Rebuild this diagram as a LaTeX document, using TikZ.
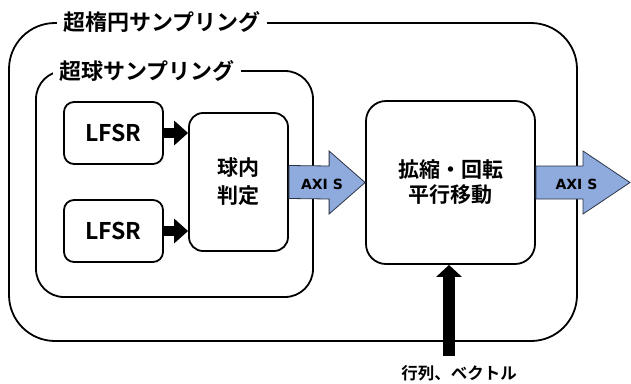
\documentclass[tikz,border=0pt]{standalone}
\usepackage{fontspec}
\setmainfont{Noto Sans CJK JP}[BoldFont={Noto Sans CJK JP Bold}]
\newfontfamily\latinfont{DejaVu Sans}
\usetikzlibrary{arrows.meta,calc}
\definecolor{axiblue}{HTML}{8FAADC}
\definecolor{axiline}{HTML}{2B3547}
\begin{document}
\begin{tikzpicture}[x=1pt,y=-1pt,
  box/.style={draw=black, line width=1.8pt, fill=white, inner sep=0pt, align=center, font=\bfseries\fontsize{21}{27}\selectfont},
  grp/.style={draw=black, line width=1.8pt, inner sep=0pt},
  grplabel/.style={fill=white, inner xsep=6pt, inner ysep=2pt, font=\bfseries\fontsize{22}{25}\selectfont},
  blk/.style={line width=10.7pt, -{Triangle[width=24pt,length=14pt]}},
  blkv/.style={line width=12pt, -{Triangle[width=25pt,length=12pt]}},
  axi/.style={fill=axiblue, draw=axiline, line width=0.8pt, line join=miter},
  axitext/.style={font=\latinfont\bfseries\fontsize{14}{16}\selectfont},
]
\useasboundingbox (0,0) rectangle (631,383);

% groups
\node[grp, rounded corners=46pt, minimum width=568pt, minimum height=318pt] (outer) at (293,182) {};
\node[grplabel] (outerlab) at (162,22) {超楕円サンプリング};
\node[grp, rounded corners=28pt, minimum width=277pt, minimum height=226pt] (inner) at (174.5,184) {};
\node[grplabel] (innerlab) at (147,71) {超球サンプリング};

% blocks
\node[box, rounded corners=10pt, minimum width=99pt, minimum height=62pt, font=\bfseries\fontsize{23}{27}\selectfont] (l1) at (113.5,133) {LFSR};
\node[box, rounded corners=10pt, minimum width=99pt, minimum height=62pt, font=\bfseries\fontsize{23}{27}\selectfont] (l2) at (113.5,231) {LFSR};
\node[box, rounded corners=14pt, minimum width=99pt, minimum height=138pt, font=\bfseries\fontsize{21}{28}\selectfont] (judge) at (238.5,182) {球内\\判定};
\node[box, rounded corners=20pt, minimum width=169pt, minimum height=163pt, font=\bfseries\fontsize{21}{25}\selectfont] (scale) at (450.5,182.5) {拡縮・回転\\平行移動};

% LFSR arrows
\draw[blk] (l1.east) -- (l1.east -| judge.west);
\draw[blk] (l2.east) -- (l2.east -| judge.west);

% AXI S arrows
\path[axi] ($(judge.east)+(0,-16.5)$) -- ($(scale.west)+(-36,-16.5)$) -- ($(scale.west)+(-36,-31.5)$)
  -- (scale.west) -- ($(scale.west)+(-36,31.5)$) -- ($(scale.west)+(-36,16.5)$) -- ($(judge.east)+(0,16.5)$) -- cycle;
\node[axitext] (axi1) at (322,184) {AXI S};

\coordinate (out) at (630,182.5);
\path[axi] ($(scale.east)+(0,-16.5)$) -- ($(out)+(-47,-16.5)$) -- ($(out)+(-47,-31.5)$)
  -- (out) -- ($(out)+(-47,31.5)$) -- ($(out)+(-47,16.5)$) -- ($(scale.east)+(0,16.5)$) -- cycle;
\node[axitext] (axi2) at (576.5,184) {AXI S};

% matrix/vector input
\coordinate (vin) at (449,356);
\draw[blkv] (vin) -- (vin |- scale.south);
\node[font=\bfseries\fontsize{16.5}{20}\selectfont] (vec) at (459,373) {行列、ベクトル};
\end{tikzpicture}
\end{document}
